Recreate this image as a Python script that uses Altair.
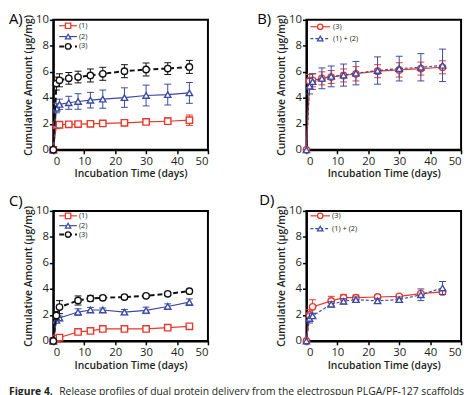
import altair as alt
import pandas as pd

# ---------------- data ----------------
days_ab = [0, 1, 2, 5, 8, 12, 16, 23, 30, 37, 44]
days_cd = [0, 1, 2, 8, 12, 16, 23, 30, 37, 44]

# Panel A : (1), (2), (3)
a1 = [0, 1.88, 1.93, 1.96, 1.98, 2.00, 2.03, 2.08, 2.15, 2.20, 2.28]
a1_err = [0, 0.15, 0.15, 0.15, 0.15, 0.15, 0.15, 0.20, 0.15, 0.25, 0.40]
a2 = [0, 3.20, 3.50, 3.62, 3.72, 3.82, 3.90, 4.02, 4.18, 4.25, 4.38]
a2_err = [0, 0.35, 0.40, 0.50, 0.60, 0.60, 0.70, 0.75, 0.80, 0.80, 0.80]
a3 = [0, 5.10, 5.35, 5.50, 5.60, 5.72, 5.85, 6.05, 6.18, 6.25, 6.38]
a3_err = [0, 0.50, 0.50, 0.45, 0.45, 0.50, 0.50, 0.50, 0.50, 0.45, 0.50]

# Panel B : (3), (1) + (2)
b3 = [0, 5.30, 5.35, 5.50, 5.60, 5.72, 5.85, 6.05, 6.15, 6.25, 6.35]
b3_err = [0, 0.50, 0.50, 0.50, 0.50, 0.50, 0.55, 0.50, 0.55, 0.50, 0.50]
b12 = [0, 4.90, 5.25, 5.50, 5.65, 5.75, 5.90, 6.10, 6.25, 6.35, 6.50]
b12_err = [0, 0.60, 0.60, 0.80, 0.80, 0.85, 0.90, 1.05, 0.95, 1.05, 1.25]

# Panel C : (1), (2), (3)
c1 = [0, 0.18, 0.26, 0.69, 0.77, 0.92, 0.92, 0.92, 1.02, 1.12]
c1_err = [0, 0.05, 0.05, 0.08, 0.08, 0.08, 0.08, 0.08, 0.08, 0.10]
c2 = [0, 1.58, 1.76, 2.22, 2.38, 2.38, 2.22, 2.35, 2.65, 2.98]
c2_err = [0, 0.15, 0.15, 0.25, 0.20, 0.15, 0.20, 0.25, 0.20, 0.25]
c3 = [0, 1.96, 2.60, 3.11, 3.27, 3.32, 3.37, 3.47, 3.62, 3.83]
c3_err = [0, 0.30, 0.50, 0.35, 0.20, 0.15, 0.15, 0.12, 0.12, 0.10]

# Panel D : (3), (1) + (2)
d3 = [0, 2.00, 2.62, 3.08, 3.33, 3.33, 3.38, 3.43, 3.64, 3.77]
d3_err = [0, 0.40, 0.55, 0.35, 0.25, 0.20, 0.15, 0.12, 0.12, 0.10]
d12 = [0, 1.73, 1.93, 2.82, 3.05, 3.18, 3.08, 3.18, 3.55, 4.07]
d12_err = [0, 0.35, 0.20, 0.20, 0.20, 0.20, 0.20, 0.20, 0.45, 0.50]

names_three = ["(1)", "(2)", "(3)"]
names_two = ["(3)", "(1) + (2)"]
panel_labels = ["A)", "B)", "C)", "D)"]
x_ticks = [0, 10, 20, 30, 40, 50]
y_ticks = [0, 2, 4, 6, 8, 10]
x_title = "Incubation Time (days)"
y_title = "Cumulative Amount (\u03bcg/mg)"
caption_bold = "Figure 4."
caption_rest = "Release profiles of dual protein delivery from the electrospun PLGA/PF-127 scaffolds"

# ---------------- styles ----------------
FONT = "Open Sans"
RED = "#e8392c"
BLUE = "#3b49a3"
BLACK = "#111111"
W, H = 157, 132

XS = alt.Scale(domain=[0, 50], nice=False)
YS = alt.Scale(domain=[0, 10], nice=False)
XAX = alt.Axis(values=x_ticks, title=x_title)
YAX = alt.Axis(values=y_ticks, title=y_title)


def X(f="day"):
    return alt.X(f"{f}:Q", scale=XS, axis=XAX)


def Y(f="val"):
    return alt.Y(f"{f}:Q", scale=YS, axis=YAX)


def series(days, vals, errs, color, shape, dash, lw):
    df = pd.DataFrame({"day": days, "val": vals, "err": errs})
    df["lo"] = df["val"] - df["err"]
    df["hi"] = df["val"] + df["err"]
    base = alt.Chart(df)
    eb = base.transform_filter("datum.err > 0")
    rule = eb.mark_rule(color=color, strokeWidth=1).encode(x=X(), y=Y("lo"), y2="hi:Q")
    cap_hi = eb.mark_tick(orient="horizontal", size=7, thickness=1, color=color, opacity=1).encode(x=X(), y=Y("hi"))
    cap_lo = eb.mark_tick(orient="horizontal", size=7, thickness=1, color=color, opacity=1).encode(x=X(), y=Y("lo"))
    line_kw = dict(color=color, strokeWidth=lw)
    if dash:
        line_kw["strokeDash"] = dash
    line = base.mark_line(**line_kw).encode(x=X(), y=Y())
    pts = base.mark_point(shape=shape, size=42, filled=True, fill="white",
                          stroke=color, strokeWidth=1.4, opacity=1).encode(x=X(), y=Y())
    return [rule, cap_hi, cap_lo, line, pts]


def legend_entry(name, color, shape, dash, lw, y, x0, x1, xm, xt):
    df = pd.DataFrame({"label": [name]})
    c = alt.Chart(df)
    kw = dict(color=color, strokeWidth=lw)
    if dash:
        kw["strokeDash"] = dash
    r = c.mark_rule(**kw).encode(x=alt.value(x0), x2=alt.value(x1), y=alt.value(y))
    p = c.mark_point(shape=shape, size=30, filled=True, fill="white", stroke=color,
                     strokeWidth=1.3, opacity=1).encode(x=alt.value(xm), y=alt.value(y))
    t = c.mark_text(align="left", baseline="middle", font=FONT, fontSize=7.5,
                    color="#231f20").encode(x=alt.value(xt), y=alt.value(y), text="label:N")
    return [r, p, t]


def plabel(text, dx, dy):
    return alt.Chart(pd.DataFrame({"t": [text]})).mark_text(
        align="left", baseline="top", font=FONT, fontSize=15, color="black"
    ).encode(x=alt.value(dx), y=alt.value(dy), text="t:N")


sty1 = (RED, "square", None, 1.2)
sty2 = (BLUE, "triangle-up", None, 1.2)
sty3 = (BLACK, "circle", [5, 3], 2)
styR = (RED, "circle", None, 1.2)
styB = (BLUE, "triangle-up", [3, 2], 1.2)

# Panel A
layers_a = []
for v, e, s in [(a1, a1_err, sty1), (a2, a2_err, sty2), (a3, a3_err, sty3)]:
    layers_a += series(days_ab, v, e, *s)
for n, s, yy in zip(names_three, [sty1, sty2, sty3], [6, 17, 27]):
    layers_a += legend_entry(n, *s, yy, 6, 24, 15, 26)
layers_a.append(plabel(panel_labels[0], -45, -8))
chart_a = alt.layer(*layers_a).properties(width=W, height=H)

# Panel B
layers_b = []
for v, e, s in [(b3, b3_err, styR), (b12, b12_err, styB)]:
    layers_b += series(days_ab, v, e, *s)
for n, s, yy in zip(names_two, [styR, styB], [7, 19]):
    layers_b += legend_entry(n, *s, yy, 4, 24, 14, 27)
layers_b.append(plabel(panel_labels[1], -50, -8))
chart_b = alt.layer(*layers_b).properties(width=W, height=H)

# Panel C
layers_c = []
for v, e, s in [(c1, c1_err, sty1), (c2, c2_err, sty2), (c3, c3_err, sty3)]:
    layers_c += series(days_cd, v, e, *s)
for n, s, yy in zip(names_three, [sty1, sty2, sty3], [5, 15, 24]):
    layers_c += legend_entry(n, *s, yy, 6, 24, 15, 26)
layers_c.append(plabel(panel_labels[2], -45, -17))
cap = pd.DataFrame({"t": [caption_bold], "u": [caption_rest]})
layers_c.append(alt.Chart(cap).mark_text(align="left", baseline="alphabetic", font=FONT,
                                          fontSize=10.5, fontWeight="bold", color="#231f20")
                .encode(x=alt.value(-45), y=alt.value(187), text="t:N"))
layers_c.append(alt.Chart(cap).mark_text(align="left", baseline="alphabetic", font=FONT,
                                          fontSize=10.5, color="#231f20")
                .encode(x=alt.value(6), y=alt.value(187), text="u:N"))
chart_c = alt.layer(*layers_c).properties(width=W, height=H)

# Panel D
layers_d = []
for v, e, s in [(d3, d3_err, styR), (d12, d12_err, styB)]:
    layers_d += series(days_cd, v, e, *s)
for n, s, yy in zip(names_two, [styR, styB], [5, 18]):
    layers_d += legend_entry(n, *s, yy, 4, 24, 14, 26)
layers_d.append(plabel(panel_labels[3], -48, -18))
chart_d = alt.layer(*layers_d).properties(width=W, height=H)

chart = alt.concat(
    chart_a, chart_b, chart_c, chart_d, columns=2,
    spacing={"row": 62, "column": 100}, bounds="flush", padding=0
).configure_view(
    stroke="black", strokeWidth=2
).configure_axis(
    grid=False, domainColor="black", domainWidth=2, tickColor="black", tickWidth=1.5,
    tickSize=4, labelFont=FONT, labelFontSize=11.5, labelColor="#231f20", labelPadding=1,
    titleFont=FONT, titleFontSize=10.5, titleFontWeight=600, titleColor="#231f20"
).configure_axisX(titlePadding=2, labelPadding=2).configure_axisY(titlePadding=2)

chart.save("out.html", embed_options={"renderer": "svg", "actions": False})
